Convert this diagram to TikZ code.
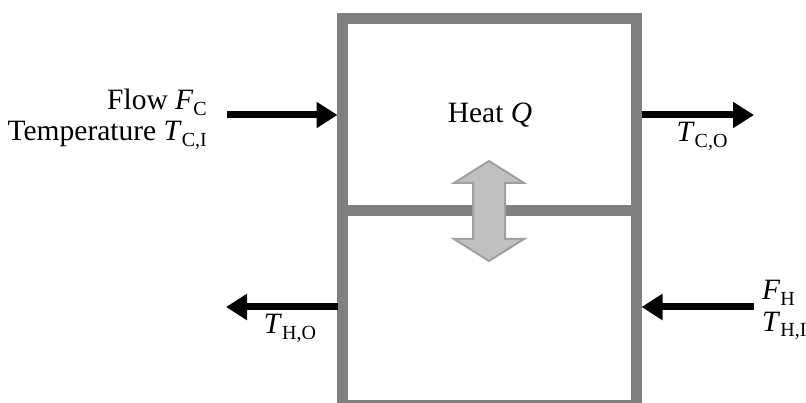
\documentclass[tikz,border=0pt]{standalone}
\usepackage{fontspec}
\setmainfont{Liberation Serif}
\usetikzlibrary{arrows.meta}
\definecolor{boxgray}{HTML}{808080}
\definecolor{dafill}{HTML}{C0C0C0}
\definecolor{dadraw}{HTML}{A0A0A0}
\newcommand\qv[2]{\textit{#1}\raisebox{-0.2em}{\fontsize{20}{20}\selectfont #2}}
\begin{document}
\begin{tikzpicture}[x=1pt,y=-1pt,
  lbl/.style={inner sep=0pt, font=\fontsize{29.5}{32}\selectfont},
  flowarrow/.style={line width=7pt, -{Triangle[length=21pt,width=25pt]}},
  hxbox/.style={draw=boxgray, line width=11pt, inner sep=0pt, minimum width=294pt, minimum height=387pt},
  wall/.style={draw=boxgray, line width=11pt},
  heatarrow/.style={fill=dafill, draw=dadraw, line width=2pt, line join=miter}]
\useasboundingbox (0,0) rectangle (806,403);
% exchanger box
\node[hxbox] (hx) at (489.5,212) {};
\coordinate (midl) at (342.5,211);
\coordinate (midr) at (636.5,211);
\draw[wall] (midl) -- (midr);
% heat transfer double arrow
\draw[heatarrow] (489,161) -- (524,183) -- (505,183) -- (505,239) -- (524,239) -- (489,261)
  -- (454,239) -- (473,239) -- (473,183) -- (454,183) -- cycle;
\node[lbl] (heat) at (490,115) {Heat \textit{Q}};
% cold stream
\coordinate (ci0) at (227,115);
\coordinate (ci1) at (337.5,115);
\coordinate (co0) at (641.5,115);
\coordinate (co1) at (754,115);
\draw[flowarrow] (ci0) -- (ci1);
\draw[flowarrow] (co0) -- (co1);
\node[lbl, anchor=base east] (flow) at (207,110) {Flow \qv{F}{C}};
\node[lbl, anchor=base east] (temp) at (207,141) {Temperature \qv{T}{C,I}};
\node[lbl] (tco) at (702,136) {\qv{T}{C,O}};
% hot stream
\coordinate (hi0) at (754,307);
\coordinate (hi1) at (641.5,307);
\coordinate (ho0) at (337.5,307);
\coordinate (ho1) at (226,307);
\draw[flowarrow] (hi0) -- (hi1);
\draw[flowarrow] (ho0) -- (ho1);
\node[lbl] (tho) at (290,328) {\qv{T}{H,O}};
\node[lbl, anchor=base west] (fh) at (762,300) {\qv{F}{H}};
\node[lbl, anchor=base west] (thi) at (762,331) {\qv{T}{H,I}};
\end{tikzpicture}
\end{document}
